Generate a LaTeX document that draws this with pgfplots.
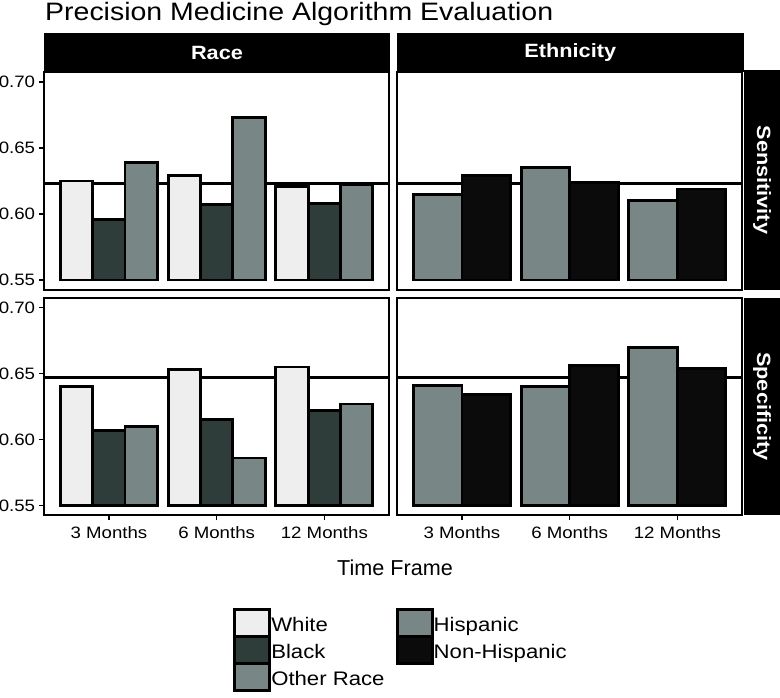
\documentclass[border=0pt]{standalone}
\usepackage{pgfplots}
\pgfplotsset{compat=1.18}
\usepackage{pgfplotstable}
\usepackage{fontspec}
\setmainfont{Liberation Sans}
\newfontfamily\wfont[FakeStretch=1.13]{Liberation Sans}

\definecolor{cWhite}{HTML}{EEEEEE}
\definecolor{cBlack}{HTML}{2E3C3A}
\definecolor{cOther}{HTML}{788786}
\definecolor{cHisp}{HTML}{788786}
\definecolor{cNon}{HTML}{0B0B0B}

\pgfplotstableread{
x W     B     O
1 0.625 0.596 0.639
2 0.629 0.607 0.673
3 0.621 0.608 0.622
}\racesens
\pgfplotstableread{
x W     B     O
1 0.640 0.607 0.610
2 0.653 0.615 0.586
3 0.655 0.622 0.627
}\racespec
\pgfplotstableread{
x H     N
1 0.615 0.629
2 0.635 0.624
3 0.610 0.619
}\ethsens
\pgfplotstableread{
x H     N
1 0.641 0.634
2 0.640 0.656
3 0.670 0.654
}\ethspec

\pgfplotsset{
  panel/.style={
    scale only axis, width=344.7pt, height=217.5pt,
    anchor=south west,
    xmin=0.4, xmax=3.6, ymin=-0.0075, ymax=0.1575,
    y filter/.expression={y-0.55},
    axis line style={black, line width=1.8pt},
    tick style={black, line width=1.5pt},
    major tick length=5pt, tick align=outside,
    xtick=\empty, ytick=\empty,
    axis background/.style={fill=white},
  },
  yleft/.style={
    ytick={0,0.05,0.1,0.15},
    yticklabels={0.55,0.60,0.65,0.70},
    ytick pos=left,
    yticklabel style={font=\wfont\fontsize{16.5}{18}\selectfont, inner sep=0pt, xshift=-4pt},
  },
  xbottom/.style={
    xtick={1,2,3},
    xticklabels={3 Months,6 Months,12 Months},
    xtick pos=left,
    xticklabel style={font=\wfont\fontsize{16.5}{18}\selectfont, inner sep=0pt, anchor=north, yshift=-6pt},
  },
  bars/.style={ybar, draw=black, line width=2.8pt},
  lkey/.style={legend image code/.code={%
      \draw[##1, line width=2.8pt] (1.4pt,-9.8pt) rectangle (26pt,17.2pt);
      \path (0pt,-9.8pt) rectangle (35pt,17.2pt);}},
  leg/.style={
    legend cell align=left,
    legend style={at={#1}, anchor=north west, draw=none, fill=none,
      inner sep=0pt, row sep=-2.8pt, column sep=0pt,
      font=\wfont\fontsize{19.6}{24}\selectfont,
      nodes={inner sep=0pt, text height=14pt, text depth=4pt}},
  },
}

\begin{document}
\begin{tikzpicture}
\path[use as bounding box] (0pt,0pt) rectangle (780pt,698pt);

% Top-left: Race / Sensitivity
\begin{axis}[panel, yleft, at={(44.3pt,408.2pt)}]
\addplot[black, line width=2.8pt, sharp plot, forget plot] coordinates {(0.4,0.6234) (3.6,0.6234)};
\addplot[bars, bar width=0.3, bar shift=-0.3, fill=cWhite] table[x=x,y=W] {\racesens};
\addplot[bars, bar width=0.3, bar shift=0, fill=cBlack] table[x=x,y=B] {\racesens};
\addplot[bars, bar width=0.3, bar shift=0.3, fill=cOther] table[x=x,y=O] {\racesens};
\end{axis}

% Top-right: Ethnicity / Sensitivity
\begin{axis}[panel, at={(397.3pt,408.2pt)}]
\addplot[black, line width=2.8pt, sharp plot, forget plot] coordinates {(0.4,0.6234) (3.6,0.6234)};
\addplot[bars, bar width=0.45, bar shift=-0.225, fill=cHisp] table[x=x,y=H] {\ethsens};
\addplot[bars, bar width=0.45, bar shift=0.225, fill=cNon] table[x=x,y=N] {\ethsens};
\end{axis}

% Bottom-left: Race / Specificity
\begin{axis}[panel, yleft, xbottom, at={(44.3pt,182.7pt)}, leg={(0.5483,-0.4262)}]
\addplot[black, line width=2.8pt, sharp plot, forget plot] coordinates {(0.4,0.6473) (3.6,0.6473)};
\addplot[bars, bar width=0.3, bar shift=-0.3, fill=cWhite, lkey] table[x=x,y=W] {\racespec};
\addlegendentry{White}
\addplot[bars, bar width=0.3, bar shift=0, fill=cBlack, lkey] table[x=x,y=B] {\racespec};
\addlegendentry{Black}
\addplot[bars, bar width=0.3, bar shift=0.3, fill=cOther, lkey] table[x=x,y=O] {\racespec};
\addlegendentry{Other Race}
\end{axis}

% Bottom-right: Ethnicity / Specificity
\begin{axis}[panel, xbottom, at={(397.3pt,182.7pt)}, leg={(-0.0046,-0.4262)}]
\addplot[black, line width=2.8pt, sharp plot, forget plot] coordinates {(0.4,0.6473) (3.6,0.6473)};
\addplot[bars, bar width=0.45, bar shift=-0.225, fill=cHisp, lkey] table[x=x,y=H] {\ethspec};
\addlegendentry{Hispanic}
\addplot[bars, bar width=0.45, bar shift=0.225, fill=cNon, lkey] table[x=x,y=N] {\ethspec};
\addlegendentry{Non-Hispanic}
\end{axis}

% strips
\fill[black] (44.3pt,625.5pt) rectangle (390pt,664.7pt);
\fill[black] (396.7pt,625.5pt) rectangle (744pt,664.7pt);
\fill[black] (744pt,408.2pt) rectangle (780pt,628pt);
\fill[black] (744pt,182.7pt) rectangle (780pt,400.2pt);
\node[text=white, font=\wfont\fontsize{19.2}{22}\selectfont\bfseries] at (217pt,645.1pt) {Race};
\node[text=white, font=\wfont\fontsize{19.2}{22}\selectfont\bfseries] at (570.3pt,645.1pt) {Ethnicity};
\node[text=white, font=\wfont\fontsize{19.2}{22}\selectfont\bfseries, rotate=-90] at (762pt,518.1pt) {Sensitivity};
\node[text=white, font=\wfont\fontsize{19.2}{22}\selectfont\bfseries, rotate=-90] at (762pt,291.5pt) {Specificity};

% titles
\node[anchor=base west, inner sep=0pt, font=\wfont\fontsize{25.2}{30}\selectfont] at (45pt,677.3pt) {Precision Medicine Algorithm Evaluation};
\node[anchor=base, inner sep=0pt, font=\fontsize{21.6}{25}\selectfont] at (395pt,122pt) {Time Frame};
\end{tikzpicture}
\end{document}
